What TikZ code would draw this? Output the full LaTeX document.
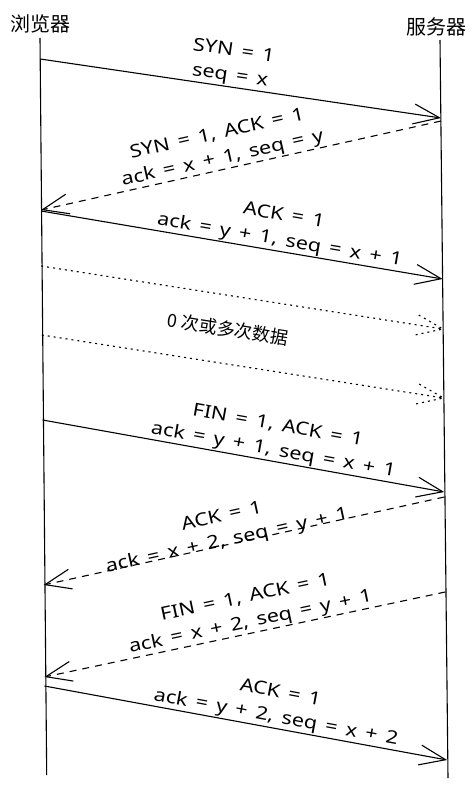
\documentclass[tikz,border=0pt]{standalone}
\usepackage{fontspec}
\setmainfont{Noto Sans}[FakeStretch=1.2,WordSpace=1.5]
\newfontfamily\cjk{Noto Sans CJK SC}
\usetikzlibrary{arrows.meta,calc}

\tikzset{
  msg/.style={line width=1.1pt,-{Straight Barb[length=26pt,width=20pt]}},
  reply/.style={msg,dash pattern=on 7pt off 6pt},
  data/.style={line width=1.1pt,dash pattern=on 2pt off 4pt},
  lbl/.style={sloped,above,align=center,inner sep=1pt,font=\fontsize{18}{25}\selectfont},
  actor/.style={font=\cjk\fontsize{20}{24}\selectfont,inner sep=0pt}
}

\begin{document}
\begin{tikzpicture}[x=1pt,y=-1pt]
    \useasboundingbox (0,0) rectangle (476,789);
    \node[actor] (browser) at (40,24) {浏览器};
    \node[actor] (server) at (436,27) {服务器};
    \path (40,38) coordinate (b0) (46.7,775) coordinate (bN)
        (440,40) coordinate (s0) (448,778) coordinate (sN)
        (40.2,59) coordinate (b1) (441,118) coordinate (s1)
        (441,121) coordinate (s2) (41,210) coordinate (b2)
        (41,211) coordinate (b3) (442.6,279) coordinate (s3)
        (41.2,266) coordinate (b4) (443,329) coordinate (s4)
        (41.8,335) coordinate (b5) (443.5,398) coordinate (s5)
        (42.6,420) coordinate (b6) (444.2,492) coordinate (s6)
        (444.3,497) coordinate (s7) (43.6,585) coordinate (b7)
        (445.2,592) coordinate (s8) (44.4,677) coordinate (b8)
        (44.5,686) coordinate (b9) (447.1,760) coordinate (s9);
    \draw[line width=1.1pt] (b0) -- (bN);
    \draw[line width=1.1pt] (s0) -- (sN);
    \draw[msg] (b1) -- node[lbl,pos=.47] (l1) {SYN = 1\\seq = x} (s1);
    \draw[reply] (s2) -- node[lbl,pos=.54] (l2) {SYN = 1, ACK = 1\\ack = x + 1, seq = y} (b2);
    \draw[msg] (b3) -- node[lbl,pos=.59] (l3) {ACK = 1\\ack = y + 1, seq = x + 1} (s3);
    \draw[data] (b4) -- (s4);
    \draw[data] ($(s4)!28pt!21:(b4)$) -- (s4) -- ($(s4)!28pt!-21:(b4)$);
    \draw[data] (b5) -- (s5);
    \draw[data] ($(s5)!28pt!21:(b5)$) -- (s5) -- ($(s5)!28pt!-21:(b5)$);
    \node[font=\cjk\fontsize{18}{22}\selectfont,rotate=-9] (more) at (228,329) {0 次或多次数据};
    \draw[msg] (b6) -- node[lbl,pos=.57] (l6) {FIN = 1, ACK = 1\\ack = y + 1, seq = x + 1} (s6);
    \draw[reply] (s7) -- node[lbl,pos=.54,yshift=-7pt] (l7) {ACK = 1\\ack = x + 2, seq = y + 1} (b7);
    \draw[reply] (s8) -- node[lbl,pos=.48] (l8) {FIN = 1, ACK = 1\\ack = x + 2, seq = y + 1} (b8);
    \draw[msg] (b9) -- node[lbl,pos=.57] (l9) {ACK = 1\\ack = y + 2, seq = x + 2} (s9);
\end{tikzpicture}
\end{document}
